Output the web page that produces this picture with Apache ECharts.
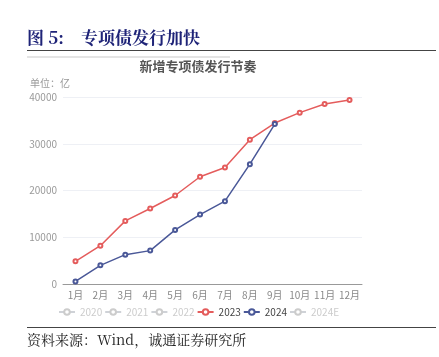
<!DOCTYPE html>
<html><head><meta charset="utf-8">
<script src="https://cdn.jsdelivr.net/npm/echarts@6/dist/echarts.min.js"></script>
<style>html,body{margin:0;padding:0;background:#fff}#c{width:439px;height:357px}</style>
</head><body><div id="c"></div>
<script>
var months = ['1月','2月','3月','4月','5月','6月','7月','8月','9月','10月','11月','12月'];
var seriesNames = ['2020','2021','2022','2023','2024','2024E'];
var s2023 = [4850, 8200, 13500, 16150, 18930, 22940, 24930, 30870, 34430, 36650, 38500, 39360];
var s2024 = [560, 3990, 6280, 7140, 11570, 14850, 17710, 25640, 34220];
var s2020 = [], s2021 = [], s2022 = [], s2024E = [];
var yTicks = [0, 10000, 20000, 30000, 40000];

var chart = echarts.init(document.getElementById('c'), null, {renderer:'canvas'});
function mk(name, data, color){
  return {name:name, type:'line', data:data, symbol:'emptyCircle', symbolSize:4,
    itemStyle:{color:color}, lineStyle:{color:color, width:1.5}};
}
chart.setOption({
  animation:false,
  grid:{left:63, right:77, top:97, bottom:73},
  xAxis:{type:'category', data:months, boundaryGap:true,
    axisLine:{lineStyle:{color:'#999'}}, axisTick:{lineStyle:{color:'#999'}},
    axisLabel:{color:'#888', fontSize:10, margin:6, interval:0, fontFamily:'Noto Sans CJK SC'}},
  yAxis:{type:'value', min:yTicks[0], max:yTicks[yTicks.length-1], interval:10000,
    axisLabel:{color:'#999', fontSize:10, margin:6, fontFamily:'Noto Sans CJK SC', formatter:function(v){return String(v);}},
    splitLine:{lineStyle:{color:'#eef0f5'}}},
  legend:{data:seriesNames, left:53, top:302, itemWidth:16, itemHeight:7, itemGap:2,
    selected:{'2020':false,'2021':false,'2022':false,'2024E':false},
    inactiveColor:'#ccc', textStyle:{color:'#444', fontSize:10, fontFamily:'Noto Sans CJK SC'}},
  series:[mk('2020', s2020, '#aaa'), mk('2021', s2021, '#aaa'), mk('2022', s2022, '#aaa'),
    mk('2023', s2023, '#e45c5c'), mk('2024', s2024, '#4a5898'), mk('2024E', s2024E, '#aaa')],
  graphic:[
    {type:'text', left:27, top:29, style:{text:'图 5:    专项债发行加快', fill:'#1f2478', font:'bold 17px "Noto Serif CJK SC","Noto Sans CJK SC"'}},
    {type:'line', shape:{x1:27,y1:50.5,x2:436,y2:50.5}, style:{stroke:'#444', lineWidth:1.2}},
    {type:'line', shape:{x1:27,y1:57,x2:230,y2:57}, style:{stroke:'#e4e4e4', lineWidth:2}},
    {type:'text', x:198, y:66, style:{text:'新增专项债发行节奏', fill:'#555', font:'bold 13px "Noto Sans CJK SC"', align:'center', verticalAlign:'middle'}},
    {type:'text', x:50, y:83, style:{text:'单位：亿', fill:'#999', font:'10px "Noto Sans CJK SC"', align:'center', verticalAlign:'middle'}},
    {type:'line', shape:{x1:27,y1:327.5,x2:436,y2:327.5}, style:{stroke:'#444', lineWidth:1.2}},
    {type:'text', left:27, top:333, style:{text:'资料来源：Wind，诚通证券研究所', fill:'#222', font:'14px "Noto Serif CJK SC","Noto Sans CJK SC"'}}
  ]
});
</script></body></html>
